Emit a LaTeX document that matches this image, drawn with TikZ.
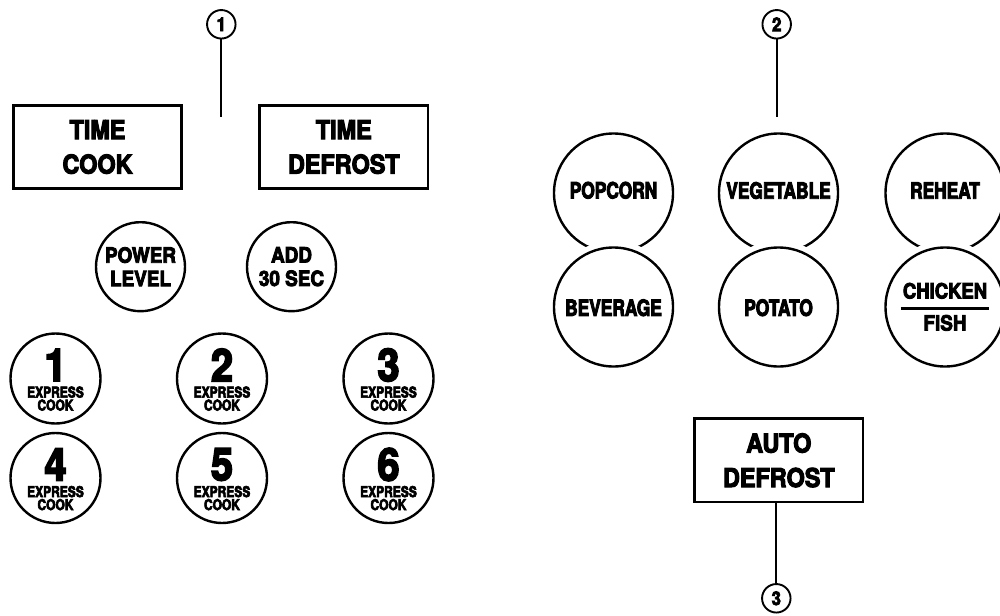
\documentclass[tikz,border=0pt]{standalone}
\usepackage{fontspec}
\setmainfont{TeX Gyre Heros}
\newfontfamily\hvA[FakeStretch=0.9,FakeBold=4]{TeX Gyre Heros}
\newfontfamily\hvB[FakeStretch=0.77,FakeBold=4]{TeX Gyre Heros}
\newfontfamily\hvC[FakeStretch=0.88,FakeBold=4]{TeX Gyre Heros}
\newfontfamily\hvD[FakeStretch=0.8,FakeBold=4]{TeX Gyre Heros}
\usetikzlibrary{calc}
\begin{document}
\begin{tikzpicture}[x=1pt,y=-1pt,
  boxbtn/.style={draw, line width=2.6pt, minimum width=168.4pt, minimum height=83.2pt,
    inner sep=0pt, align=center, font=\hvA\bfseries\fontsize{26}{34.5}\selectfont},
  btn/.style={circle, draw, line width=2.4pt, inner sep=0pt, minimum size=89pt,
    align=center, font=\hvA\bfseries\fontsize{21}{23.5}\selectfont},
  xbtn/.style={circle, draw, line width=2.4pt, inner sep=0pt, minimum size=90pt},
  big/.style={circle, draw, line width=2.4pt, inner sep=0pt, minimum size=119pt},
  low/.style={big, fill=white, preaction={draw=white, line width=13pt}},
  numc/.style={circle, draw, line width=1.9pt, minimum size=28.5pt, inner sep=0pt,
    font=\hvC\bfseries\fontsize{19}{19}\selectfont},
  conn/.style={line width=1.7pt},
  digit/.style={inner sep=0pt, font=\hvC\bfseries\fontsize{45}{45}\selectfont},
  xc/.style={inner sep=0pt, font=\hvD\bfseries\fontsize{15}{12}\selectfont},
  lblR/.style={inner sep=0pt, font=\hvB\bfseries\fontsize{22.5}{27}\selectfont},
  lblC/.style={inner sep=0pt, font=\hvC\bfseries\fontsize{21}{24}\selectfont},
  lblF/.style={inner sep=0pt, font=\hvA\bfseries\fontsize{21}{24}\selectfont}
]
\useasboundingbox (0,0) rectangle (1000,615);

% rectangular buttons
\node[boxbtn] (tc) at (97.5,147) {TIME\\COOK};
\node[boxbtn] (td) at (343.8,147) {TIME\\DEFROST};
\node[boxbtn] (ad) at (778.8,460.3) {AUTO\\DEFROST};

% callouts
\node[numc] (m1) at (221.3,24.3) {1};
\node[numc] (m2) at (776.7,24.3) {2};
\node[numc] (m3) at (776.3,598.3) {3};
\coordinate (e1) at (221.3,117.3);
\coordinate (e2) at (776.7,117.3);
\draw[conn] (m1) -- (e1);
\draw[conn] (m2) -- (e2);
\draw[conn] (m3) -- (m3 |- ad.south);

% power level / add 30 sec
\node[btn] (pl) at (140.5,266.7) {POWER\\LEVEL};
\node[btn] (as) at (291.5,266.7) {ADD\\30 SEC};

% express cook buttons
\foreach \i/\x/\y in {1/55.5/378.5, 2/222/378.5, 3/388.5/378.5,
                      4/55.5/478, 5/222/478, 6/388.5/478} {
  \node[xbtn] (x\i) at (\x,\y) {};
  \node[digit] (d\i) at ([yshift=13.5pt]x\i.center) {\i};
  \node[xc] (t\i) at ([yshift=-13.6pt]x\i.center) {EXPRESS};
  \node[xc] (k\i) at ([yshift=-26.6pt]x\i.center) {COOK};
}

% auto cook pairs
\node[big] (pop) at (613.5,193) {};
\node[big] (veg) at (778.5,193) {};
\node[big] (reh) at (945,193) {};
\node[low] (bev) at (613.5,307) {};
\node[low] (pot) at (778.5,307) {};
\node[low] (cf) at (945,307) {};

\node[lblR] (popt) at ([yshift=2.7pt]pop.center) {POPCORN};
\node[lblR] (vegt) at ([yshift=2.5pt]veg.center) {VEGETABLE};
\node[lblR] (reht) at ([yshift=2.5pt]reh.center) {REHEAT};
\node[lblR] (bevt) at ([yshift=-0.7pt]bev.center) {BEVERAGE};
\node[lblR] (pott) at ([yshift=-0.7pt]pot.center) {POTATO};
\node[lblC] (chk) at ([yshift=16.2pt]cf.center) {CHICKEN};
\node[lblF] (fsh) at ([yshift=-15.9pt]cf.center) {FISH};
\draw[line width=3pt] ([xshift=-44.2pt,yshift=-1.5pt]cf.center) -- ([xshift=44.2pt,yshift=-1.5pt]cf.center);
\end{tikzpicture}
\end{document}
